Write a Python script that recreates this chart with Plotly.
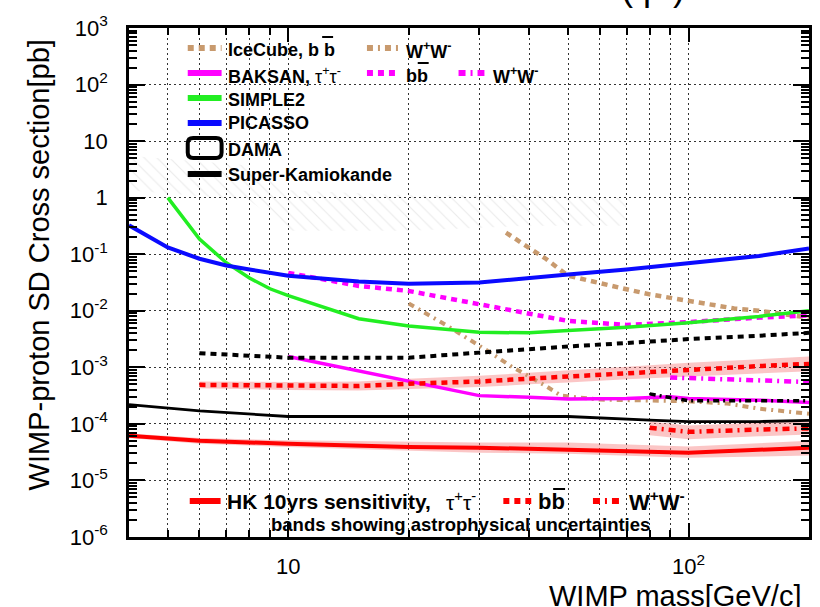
import math
import plotly.graph_objects as go

# ---------------- data: spin-dependent WIMP-proton cross section (pb) vs mass (GeV) ----------------
picasso_m = [4, 5, 6, 7, 8, 10, 15, 20, 30, 40, 50, 70, 100, 150, 200]
picasso_xs = [0.324, 0.132, 0.0832, 0.0631, 0.0537, 0.0417, 0.0331, 0.0302, 0.0316,
              0.0372, 0.0437, 0.0537, 0.0692, 0.0933, 0.126]

simple2_m = [5, 6, 7, 8, 9, 10, 15, 20, 30, 40, 50, 70, 100, 150, 200]
simple2_xs = [1.0, 0.186, 0.0708, 0.038, 0.0245, 0.0186, 0.00724, 0.00537, 0.00417,
              0.00407, 0.00447, 0.00513, 0.00617, 0.00794, 0.0100]

baksan_bb_m = [10, 15, 20, 30, 40, 50, 70, 100, 150, 200]
baksan_bb_xs = [0.0468, 0.0275, 0.0224, 0.0132, 0.00891, 0.00661, 0.00562, 0.00631,
                0.00759, 0.00832]

baksan_tau_m = [10, 15, 20, 30, 40, 50, 70, 90, 100, 150, 200]
baksan_tau_xs = [1.55e-3, 8.71e-4, 5.75e-4, 3.16e-4, 2.95e-4, 2.75e-4, 2.82e-4, 3.02e-4,
                 2.82e-4, 2.63e-4, 2.40e-4]

baksan_ww_m = [90, 100, 150, 200]
baksan_ww_xs = [6.61e-4, 6.46e-4, 5.89e-4, 5.50e-4]

sk_bb_m = [6, 10, 15, 20, 30, 40, 50, 70, 100, 150, 200]
sk_bb_xs = [1.78e-3, 1.48e-3, 1.48e-3, 1.48e-3, 1.82e-3, 2.14e-3, 2.34e-3, 2.69e-3,
            3.16e-3, 3.63e-3, 4.07e-3]

sk_ww_m = [80, 90, 100, 150, 200]
sk_ww_xs = [3.39e-4, 2.95e-4, 2.57e-4, 2.57e-4, 2.57e-4]

sk_tau_m = [4, 6, 10, 15, 20, 30, 50, 80, 100, 150, 200]
sk_tau_xs = [2.19e-4, 1.70e-4, 1.35e-4, 1.35e-4, 1.38e-4, 1.38e-4, 1.35e-4, 1.17e-4,
             1.10e-4, 1.10e-4, 1.15e-4]

icecube_bb_m = [35, 40, 44, 50, 60, 70, 80, 100, 130, 150, 200]
icecube_bb_xs = [0.240, 0.126, 0.0832, 0.0417, 0.0302, 0.0240, 0.0195, 0.0151, 0.0110,
                 0.0100, 0.00759]

icecube_ww_m = [20, 25, 31.5, 36, 44, 48, 60, 75, 100, 125, 150, 200]
icecube_ww_xs = [0.0135, 5.37e-3, 1.95e-3, 1.05e-3, 4.68e-4, 3.16e-4, 2.69e-4, 2.63e-4,
                 2.51e-4, 2.29e-4, 1.86e-4, 1.51e-4]

# Hyper-Kamiokande 10 yr sensitivity (central value + astrophysical uncertainty band)
hk_tau_m = [4, 6, 10, 20, 30, 50, 100, 200]
hk_tau_xs = [6.17e-5, 5.01e-5, 4.47e-5, 3.89e-5, 3.80e-5, 3.47e-5, 3.09e-5, 3.80e-5]
hk_tau_lo = [5.62e-5, 4.47e-5, 3.89e-5, 3.31e-5, 3.09e-5, 2.95e-5, 2.51e-5, 2.75e-5]
hk_tau_hi = [6.76e-5, 5.62e-5, 5.13e-5, 4.79e-5, 4.68e-5, 4.68e-5, 3.98e-5, 5.01e-5]

hk_bb_m = [6, 10, 15, 20, 30, 40, 50, 70, 100, 150, 200]
hk_bb_xs = [4.90e-4, 4.68e-4, 4.68e-4, 5.13e-4, 5.62e-4, 6.31e-4, 6.92e-4, 7.94e-4,
            9.12e-4, 1.05e-3, 1.15e-3]
hk_bb_lo = [4.27e-4, 3.98e-4, 3.89e-4, 4.17e-4, 4.47e-4, 5.01e-4, 5.37e-4, 6.17e-4,
            6.92e-4, 7.94e-4, 8.51e-4]
hk_bb_hi = [5.62e-4, 5.50e-4, 5.62e-4, 6.31e-4, 7.08e-4, 7.94e-4, 8.91e-4, 1.02e-3,
            1.20e-3, 1.38e-3, 1.55e-3]

hk_ww_m = [80, 100, 150, 200]
hk_ww_xs = [8.51e-5, 7.24e-5, 7.94e-5, 8.32e-5]
hk_ww_lo = [6.31e-5, 5.37e-5, 6.03e-5, 6.46e-5]
hk_ww_hi = [1.10e-4, 9.33e-5, 1.05e-4, 1.12e-4]

# DAMA allowed region outline
dama_m = [4, 8, 10, 20, 40, 70, 70, 40, 20, 10, 8, 4, 4]
dama_xs = [5.5, 3.7, 1.35, 1.1, 1.1, 1.0, 0.32, 0.32, 0.26, 0.26, 0.9, 1.35, 5.5]

# axis tick labels
x_tick_vals = [10, 100]
x_tick_text = ["10", "10<sup>2</sup>"]
y_tick_vals = [1e-6, 1e-5, 1e-4, 1e-3, 1e-2, 1e-1, 1, 10, 100, 1000]
y_tick_text = ["10<sup>-6</sup>", "10<sup>-5</sup>", "10<sup>-4</sup>", "10<sup>-3</sup>",
               "10<sup>-2</sup>", "10<sup>-1</sup>", "1", "10", "10<sup>2</sup>",
               "10<sup>3</sup>"]

# ---------------- styling ----------------
FONT = "Liberation Sans, Arial, Helvetica, sans-serif"
TAN = "#c89a6e"
MAG = "#ff00ff"
GREEN = "#22ee22"
BLUE = "#0a0aff"
RED = "#ff0000"
BAND = "rgba(245,120,120,0.42)"
DOT = "6px,5px"
DASHDOT = "7px,5px,2px,5px"

fig = go.Figure()

# DAMA hatched region
fig.add_trace(go.Scatter(
    x=dama_m, y=dama_xs, mode="lines", fill="toself",
    line=dict(width=0, color="rgba(0,0,0,0)"),
    fillcolor="rgba(0,0,0,0)",
    fillpattern=dict(shape="\\", fgcolor="rgba(0,0,0,0.16)", bgcolor="rgba(255,255,255,0)",
                     size=9, solidity=0.12),
    hoverinfo="skip", showlegend=False))


def band(m, lo, hi):
    fig.add_trace(go.Scatter(x=m, y=hi, mode="lines", line=dict(width=0),
                             hoverinfo="skip", showlegend=False))
    fig.add_trace(go.Scatter(x=m, y=lo, mode="lines", line=dict(width=0),
                             fill="tonexty", fillcolor=BAND,
                             hoverinfo="skip", showlegend=False))


band(hk_tau_m, hk_tau_lo, hk_tau_hi)
band(hk_bb_m, hk_bb_lo, hk_bb_hi)
band(hk_ww_m, hk_ww_lo, hk_ww_hi)


def curve(m, xs, color, width, dash="solid", name=""):
    fig.add_trace(go.Scatter(x=m, y=xs, mode="lines", name=name,
                             line=dict(color=color, width=width, dash=dash),
                             showlegend=False))


curve(icecube_bb_m, icecube_bb_xs, TAN, 4.5, DOT, "IceCube bb")
curve(icecube_ww_m, icecube_ww_xs, TAN, 4, "6px,5px,2px,5px", "IceCube WW")
curve(baksan_bb_m, baksan_bb_xs, MAG, 4.5, DOT, "BAKSAN bb")
curve(baksan_ww_m, baksan_ww_xs, MAG, 4.5, DASHDOT, "BAKSAN WW")
curve(baksan_tau_m, baksan_tau_xs, MAG, 3.5, "solid", "BAKSAN tautau")
curve(simple2_m, simple2_xs, GREEN, 3.5, "solid", "SIMPLE2")
curve(picasso_m, picasso_xs, BLUE, 4, "solid", "PICASSO")
curve(sk_bb_m, sk_bb_xs, "black", 4, DOT, "SK bb")
curve(sk_ww_m, sk_ww_xs, "black", 3.5, "6px,4px,2px,4px", "SK WW")
curve(sk_tau_m, sk_tau_xs, "black", 2.8, "solid", "SK tautau")
curve(hk_bb_m, hk_bb_xs, RED, 4.5, DOT, "HK bb")
curve(hk_ww_m, hk_ww_xs, RED, 4.5, DASHDOT, "HK WW")
curve(hk_tau_m, hk_tau_xs, RED, 4, "solid", "HK tautau")

# ---------------- legend drawn in page pixels ----------------
L, R, T, B = 129, 812, 28, 537
PW, PH = R - L, B - T


def px(x):
    return (x - L) / PW


def py(y):
    return (B - y) / PH


shapes = []
annotations = []


def sample(x0, x1, y, color, width, dash="solid"):
    shapes.append(dict(type="line", xref="paper", yref="paper",
                       x0=px(x0), x1=px(x1), y0=py(y), y1=py(y),
                       line=dict(color=color, width=width, dash=dash)))


def bar(x0, x1, y):
    shapes.append(dict(type="line", xref="paper", yref="paper",
                       x0=px(x0), x1=px(x1), y0=py(y), y1=py(y),
                       line=dict(color="black", width=2)))


def label(x, y, text, size=18):
    annotations.append(dict(xref="paper", yref="paper", x=px(x), y=py(y),
                            xanchor="left", yanchor="middle", text=text,
                            showarrow=False, borderpad=0,
                            font=dict(family=FONT, size=size, color="black")))


TAU = "τ<sup>+</sup>τ<sup>-</sup>"
WW = "<b>W<sup>+</sup>W<sup>-</sup></b>"

sample(188, 222, 48, TAN, 6, DOT)
label(227, 50, "<b>IceCube, b b</b>")
bar(323, 334, 37)
sample(368, 400, 48, TAN, 6, "6px,5px,2px,5px")
label(406, 50, WW)

sample(188, 222, 73, MAG, 6)
label(227, 75, "<b>BAKSAN,</b> " + TAU)
sample(368, 400, 73, MAG, 6, DOT)
label(406, 76, "<b>bb</b>")
bar(419, 430, 63)
sample(460, 486, 73, MAG, 6, DASHDOT)
label(494, 75, WW)

sample(188, 222, 98, GREEN, 6)
label(227, 100, "<b>SIMPLE2</b>")
sample(188, 222, 123, BLUE, 6)
label(227, 123, "<b>PICASSO</b>")

x0, x1, y0, y1, r = px(188), px(222), py(158), py(138), 0.008
ry = r * PW / PH
shapes.append(dict(
    type="path", xref="paper", yref="paper",
    path=(f"M {x0 + r} {y0} L {x1 - r} {y0} Q {x1} {y0} {x1} {y0 + ry} "
          f"L {x1} {y1 - ry} Q {x1} {y1} {x1 - r} {y1} L {x0 + r} {y1} "
          f"Q {x0} {y1} {x0} {y1 - ry} L {x0} {y0 + ry} Q {x0} {y0} {x0 + r} {y0} Z"),
    line=dict(color="black", width=4)))
label(227, 150, "<b>DAMA</b>")
sample(188, 222, 174, "black", 6)
label(227, 175, "<b>Super-Kamiokande</b>")

sample(190, 221, 501, RED, 6)
label(226, 501, "<b>HK 10yrs sensitivity,</b>", 21)
label(446, 501, TAU, 21)
sample(505, 533, 501, RED, 6, DOT)
label(539, 501, "<b>bb</b>", 22)
bar(555, 567, 489)
sample(595, 623, 501, RED, 6, DASHDOT)
label(630, 501, WW, 22)
label(271, 524, "<b>bands showing astrophysical uncertainties</b>", 18.5)

# axis titles
annotations.append(dict(xref="paper", yref="paper", x=px(39), y=py(265),
                        xanchor="center", yanchor="middle", textangle=-90,
                        text="WIMP-proton SD Cross section[pb]", showarrow=False,
                        font=dict(family=FONT, size=29, color="black")))
annotations.append(dict(xref="paper", yref="paper", x=px(806), y=py(596),
                        xanchor="right", yanchor="middle",
                        text="WIMP mass[GeV/c]", showarrow=False,
                        font=dict(family=FONT, size=29, color="black")))
annotations.append(dict(xref="paper", yref="paper", x=px(655), y=py(10),
                        xanchor="center", yanchor="bottom",
                        text="( p )", showarrow=False,
                        font=dict(family=FONT, size=36, color="black")))

# ---------------- axes ----------------
y_minor = [k * 10.0 ** e for e in range(-6, 3) for k in range(2, 10)]
x_minor = [5, 6, 7, 8, 9, 20, 30, 40, 50, 60, 70, 80, 90]
GRID = dict(gridcolor="#333333", griddash="2px,3px", gridwidth=1)

fig.update_layout(
    width=820, height=607,
    margin=dict(l=L, r=820 - R, t=T, b=607 - B),
    paper_bgcolor="white", plot_bgcolor="white",
    font=dict(family=FONT, color="black"),
    shapes=shapes, annotations=annotations,
    xaxis=dict(type="log", range=[math.log10(4), math.log10(200)],
               tickmode="array", tickvals=x_tick_vals, ticktext=x_tick_text,
               ticks="inside", ticklen=14, tickwidth=1.5, tickcolor="black",
               showline=True, linewidth=2.5, linecolor="black", mirror="ticks",
               showgrid=True, **GRID,
               tickfont=dict(size=22, family=FONT), ticklabelstandoff=8,
               minor=dict(tickmode="array", tickvals=x_minor, ticks="inside",
                          ticklen=7, tickcolor="black", showgrid=True, **GRID)),
    yaxis=dict(type="log", range=[-6, 3],
               tickmode="array", tickvals=y_tick_vals, ticktext=y_tick_text,
               ticks="inside", ticklen=16, tickwidth=1.5, tickcolor="black",
               showline=True, linewidth=2.5, linecolor="black", mirror="ticks",
               showgrid=True, **GRID,
               tickfont=dict(size=22, family=FONT), ticklabelstandoff=14,
               minor=dict(tickmode="array", tickvals=y_minor, ticks="inside",
                          ticklen=8, tickcolor="black", showgrid=False)),
)

fig.write_html("out.html")
